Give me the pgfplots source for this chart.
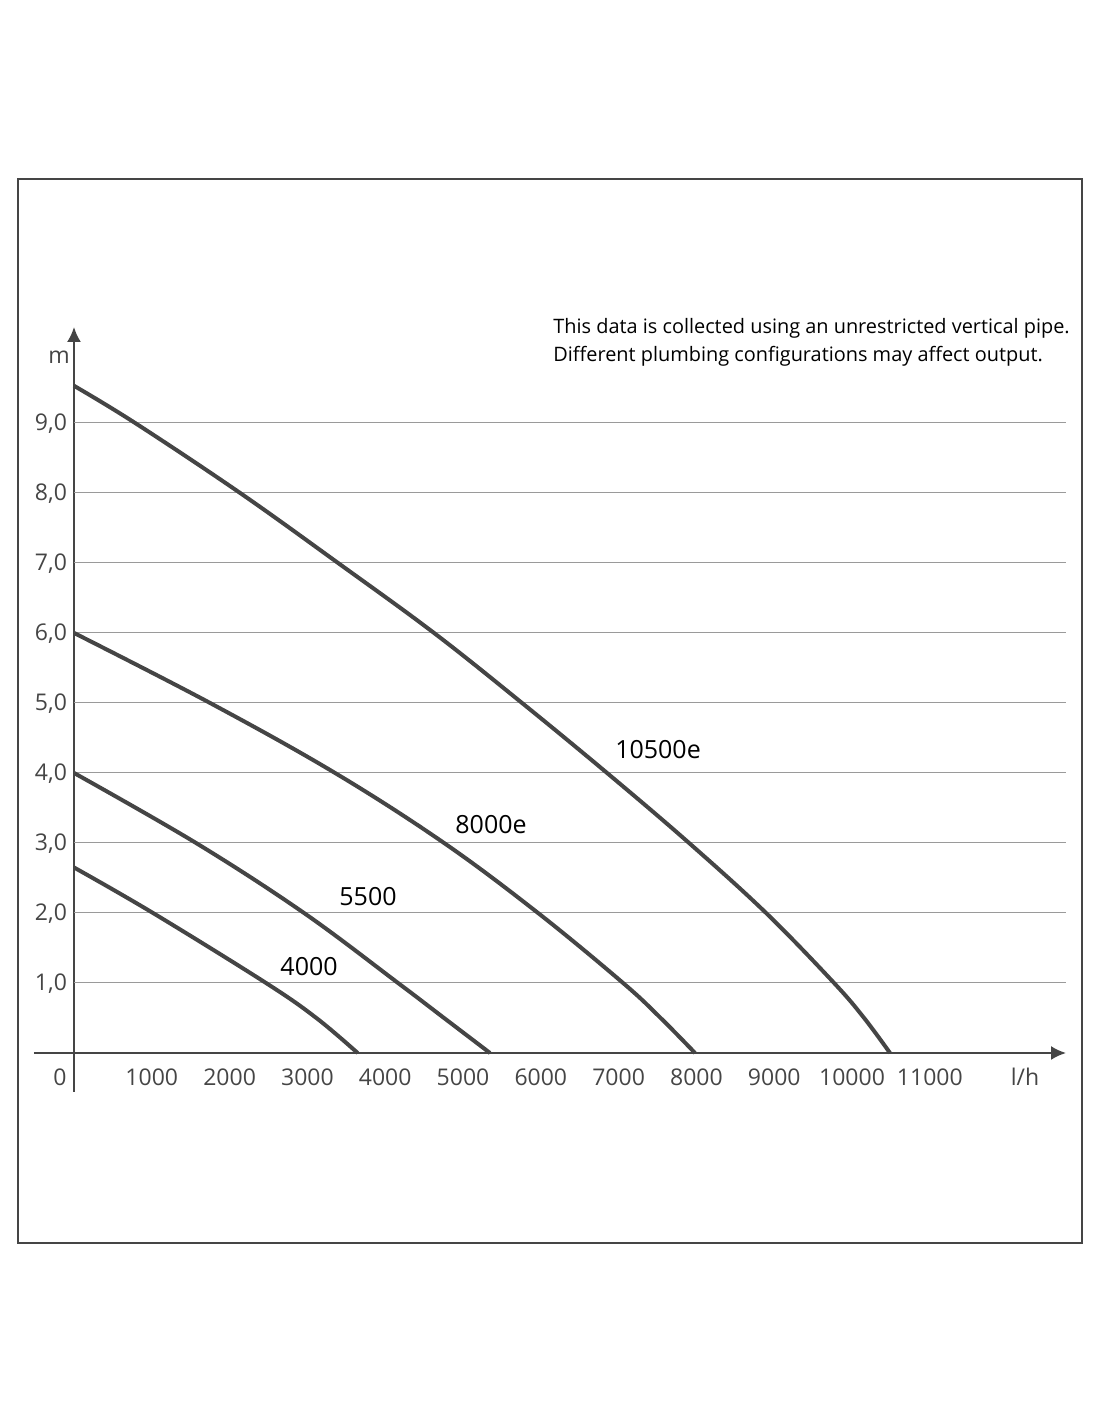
\documentclass[border=0pt]{standalone}
\usepackage{pgfplots}
\pgfplotsset{compat=1.18}
\usetikzlibrary{arrows.meta}
\usepackage{fontspec}
\setmainfont{Open Sans}
\definecolor{ax}{HTML}{454545}
\definecolor{gridc}{HTML}{9A9A9A}
\begin{document}
\begin{tikzpicture}
\path[use as bounding box] (0,0) rectangle (550pt,711pt);
\draw[ax, line width=1.2pt] (9pt,89.5pt) rectangle (541pt,621.5pt);
\begin{axis}[
  at={(17pt,165pt)}, anchor=south west,
  scale only axis, width=516pt, height=382.5pt,
  xmin=-514, xmax=12750, ymin=-0.557, ymax=10.37,
  axis lines=middle,
  axis line style={ax, line width=1pt, -{Latex[length=7.5pt,width=7pt]}},
  xtick={1000,2000,3000,4000,5000,6000,7000,8000,9000,10000,11000},
  ytick={1,2,3,4,5,6,7,8,9},
  scaled x ticks=false, scaled y ticks=false,
  major tick length=0pt,
  tick style={draw=none},
  /pgf/number format/assume math mode=true,
  xticklabel style={anchor=base, yshift=-16.5pt, text=ax,
    font=\fontsize{11.5}{12}\selectfont,
    /pgf/number format/.cd, fixed, precision=0, 1000 sep={}},
  yticklabel style={anchor=base east, yshift=-4pt, text=ax,
    font=\fontsize{11.5}{12}\selectfont,
    /pgf/number format/.cd, fixed, fixed zerofill, precision=1, use comma},
]
\pgfplotsinvokeforeach{1,...,9}{\draw[gridc, line width=0.5pt] (axis cs:0,#1) -- (axis cs:12750,#1);}
\addplot[ax, line width=2pt, smooth, tension=0.6] coordinates {
 (0,9.53) (784,9) (2134,8) (3393,7) (4627,6) (5758,5) (6851,4) (7905,3) (8895,2) (9769,1) (10155,0.5) (10488,0)};
\addplot[ax, line width=2pt, smooth, tension=0.6] coordinates {
 (0,6.0) (1748,5) (3355,4) (4756,3) (5964,2) (7057,1) (7540,0.5) (7982,0)};
\addplot[ax, line width=2pt, smooth, tension=0.6] coordinates {
 (0,4.0) (1568,3) (2956,2) (4165,1) (4756,0.5) (5347,0)};
\addplot[ax, line width=2pt, smooth, tension=0.6] coordinates {
 (0,2.65) (1015,2) (2468,1) (3115,0.5) (3646,0)};
\node[anchor=base, font=\fontsize{12.5}{13}\selectfont] at (axis cs:7506,4.2) {10500e};
\node[anchor=base, font=\fontsize{12.5}{13}\selectfont] at (axis cs:5360,3.14) {8000e};
\node[anchor=base, font=\fontsize{12.5}{13}\selectfont] at (axis cs:3779,2.11) {5500};
\node[anchor=base, font=\fontsize{12.5}{13}\selectfont] at (axis cs:3021,1.11) {4000};
\end{axis}
\node[anchor=base, text=ax, font=\fontsize{11.5}{12}\selectfont] at (29.5pt,529pt) {m};
\node[anchor=base, text=ax, font=\fontsize{11.5}{12}\selectfont] at (30pt,168pt) {0};
\node[anchor=base, text=ax, font=\fontsize{11.5}{12}\selectfont] at (512.5pt,168pt) {l/h};
\node[anchor=base west, inner sep=0pt, font=\fontsize{9.95}{12}\selectfont] at (276.5pt,544pt) {This data is collected using an unrestricted vertical pipe.};
\node[anchor=base west, inner sep=0pt, font=\fontsize{9.95}{12}\selectfont] at (276.5pt,530pt) {Different plumbing configurations may affect output.};
\end{tikzpicture}
\end{document}
